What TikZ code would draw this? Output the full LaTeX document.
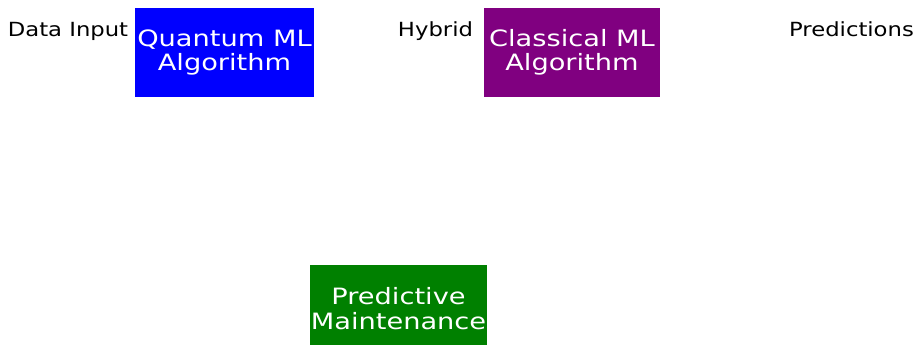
\documentclass[tikz,border=0pt]{standalone}
\usepackage{fontspec}
\setmainfont{DejaVu Sans}
\definecolor{algpurple}{RGB}{128,0,128}
\definecolor{alggreen}{RGB}{0,128,0}

\begin{document}
\begin{tikzpicture}[x=1pt, y=-1pt,
    lab/.style={font=\fontsize{19.5}{22}\selectfont, anchor=base, inner sep=0pt, xscale=1.165, transform shape},
    alg/.style={fill=#1, text=white, font=\fontsize{22.5}{24.5}\selectfont, align=center, inner sep=0pt,
                minimum height=88pt, xscale=1.21, transform shape}]
    \useasboundingbox (0,0) rectangle (921,345);
    \clip (0,0) rectangle (921,345);
    \node[lab] (din) at (68, 37) {Data Input};
    \node[lab] (hyb) at (435.5, 37) {Hybrid};
    \node[lab] (pred) at (851.5, 37) {Predictions};
    \node[alg=blue, minimum width=148pt] (qml) at (224.5, 52.5) {Quantum ML\\Algorithm};
    \node[alg=algpurple, minimum width=145.5pt] (cml) at (572, 52.5) {Classical ML\\Algorithm};
    \node[alg=alggreen, minimum width=146.5pt] (pm) at (398.5, 308.5) {Predictive\\Maintenance};
\end{tikzpicture}
\end{document}
